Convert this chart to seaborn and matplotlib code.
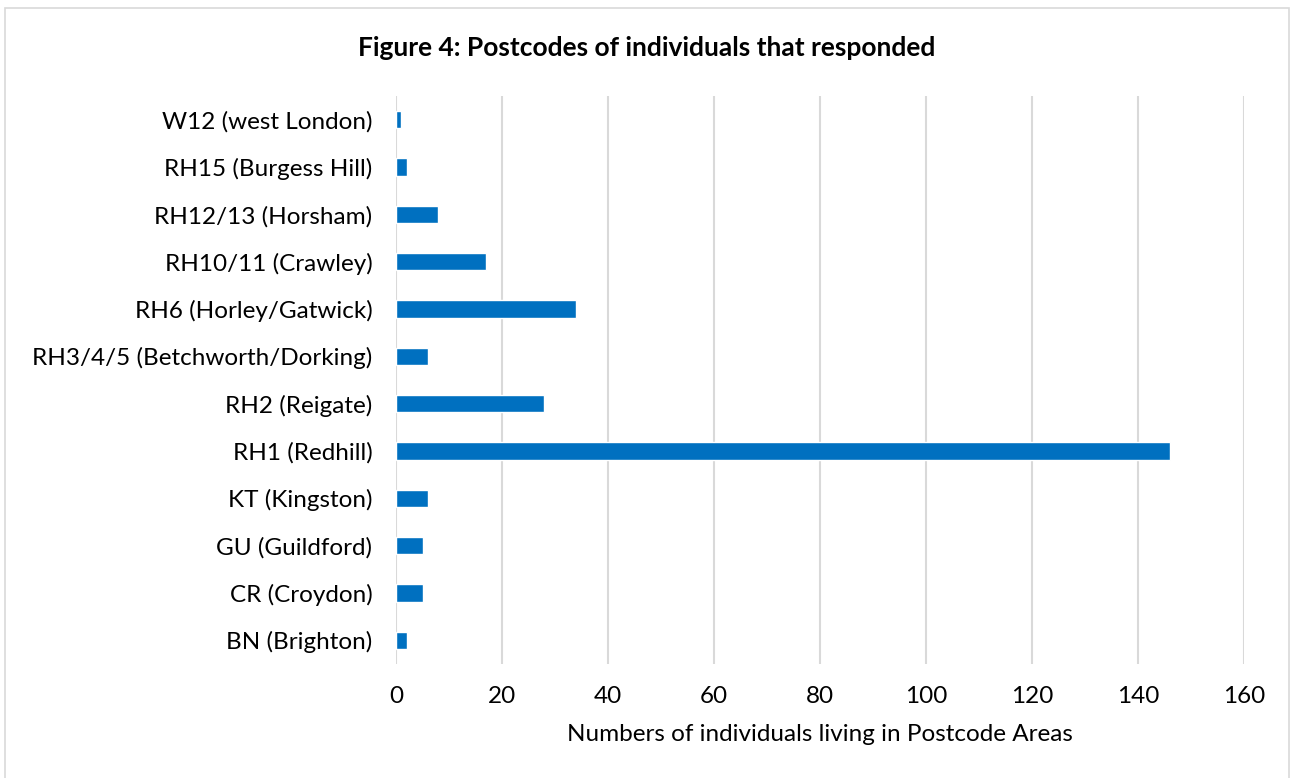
import matplotlib
matplotlib.use("Agg")
import matplotlib.pyplot as plt
import seaborn as sns
import pandas as pd
from matplotlib.patches import Rectangle

categories = ["W12 (west London)", "RH15 (Burgess Hill)", "RH12/13 (Horsham)",
              "RH10/11 (Crawley)", "RH6 (Horley/Gatwick)", "RH3/4/5 (Betchworth/Dorking)",
              "RH2 (Reigate)", "RH1 (Redhill)", "KT (Kingston)", "GU (Guildford)",
              "CR (Croydon)", "BN (Brighton)"]
values = [1, 2, 8, 17, 34, 6, 28, 146, 6, 5, 5, 2]
x_ticks = [0, 20, 40, 60, 80, 100, 120, 140, 160]

sns.set_theme(style="white")
plt.rcParams['font.family'] = ['Lato', 'DejaVu Sans']

df = pd.DataFrame({"cat": categories, "val": values})

fig = plt.figure(figsize=(12.93, 7.78), dpi=100)
ax = fig.add_axes([396/1293, 1 - 664/778, (1244 - 396)/1293, (664 - 96)/778])

sns.barplot(data=df, y="cat", x="val", color="#0070C0", width=0.36,
            saturation=1, ax=ax, orient="h")

ax.set_xlim(0, 160)
ax.set_xticks(x_ticks)
ax.set_xticklabels([str(t) for t in x_ticks])
ax.grid(axis="x", color="#D9D9D9", linewidth=1.5)
ax.set_axisbelow(True)
for s in ax.spines.values():
    s.set_visible(False)
ax.tick_params(axis="both", length=0, labelsize=17.5, colors="black")
ax.tick_params(axis="y", pad=17)
ax.tick_params(axis="x", pad=16)
ax.set_ylabel("")
ax.set_xlabel("Numbers of individuals living in Postcode Areas", fontsize=17.5,
              color="black", labelpad=12)

fig.text(0.5, 1 - 48/778, "Figure 4: Postcodes of individuals that responded",
         ha="center", va="center", fontsize=19, fontweight="bold", color="black")

fig.patches.append(Rectangle((5/1293, -0.01), (1289 - 5)/1293, 1 - 8/778 + 0.01,
                             transform=fig.transFigure, fill=False,
                             edgecolor="#D9D9D9", linewidth=1.2))

fig.savefig("out.png", dpi=100)
